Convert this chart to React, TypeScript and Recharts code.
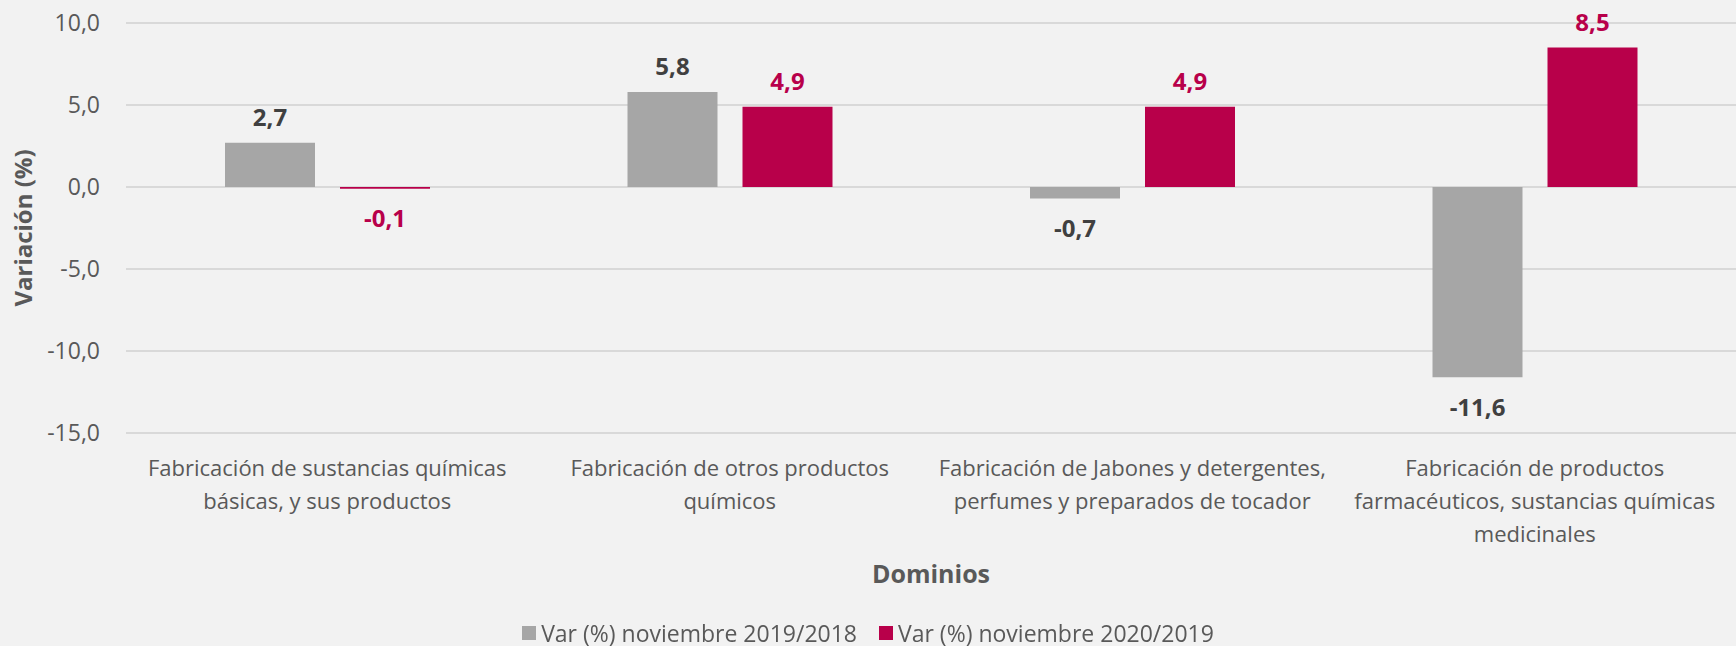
import { Bar, BarChart, CartesianGrid, Label, LabelList, Legend, XAxis, YAxis } from 'recharts';

const categories = [
  'Fabricación de sustancias químicas\nbásicas, y sus productos',
  'Fabricación de otros productos\nquímicos',
  'Fabricación de Jabones y detergentes,\nperfumes y preparados de tocador',
  'Fabricación de productos\nfarmacéuticos, sustancias químicas\nmedicinales',
];
const var2019 = [2.7, 5.8, -0.7, -11.6];
const var2020 = [-0.1, 4.9, 4.9, 8.5];
const yTicks = [-15, -10, -5, 0, 5, 10];
const seriesNames = ['Var (%) noviembre 2019/2018', 'Var (%) noviembre 2020/2019'];

const FONT = "'Open Sans', 'Noto Sans', sans-serif";
const GREY = '#A6A6A6';
const RED = '#B8004A';
const TEXT = '#595959';

const data = categories.map((name, i) => ({ name, v2019: var2019[i], v2020: var2020[i] }));

function fmt(v: number): string {
  return v.toFixed(1).replace('.', ',');
}

function CategoryTick({ x, y, payload }: any) {
  const lines = String(payload.value).split('\n');
  return (
    <text x={x} y={y} textAnchor="middle" fill={TEXT} fontSize={22} fontFamily={FONT}>
      {lines.map((line, i) => (
        <tspan key={i} x={x} dy={i === 0 ? 43 : 33}>
          {line}
        </tspan>
      ))}
    </text>
  );
}

function valueLabel(color: string) {
  return (props: any) => {
    const { x, y, width, height, value } = props;
    const v = Number(value);
    const top = Math.min(y, y + height);
    const bottom = Math.max(y, y + height);
    const ty = v >= 0 ? top - 25 : bottom + 30;
    return (
      <text
        x={x + width / 2}
        y={ty}
        dy="0.35em"
        textAnchor="middle"
        fill={color}
        fontWeight={700}
        fontSize={24}
        fontFamily={FONT}
      >
        {fmt(v)}
      </text>
    );
  };
}

function LegendContent() {
  const colors = [GREY, RED];
  return (
    <div
      style={{
        display: 'flex',
        justifyContent: 'center',
        gap: 22,
        fontFamily: FONT,
        fontSize: 23,
        color: TEXT,
        lineHeight: '26px',
      }}
    >
      {seriesNames.map((n, i) => (
        <span key={n} style={{ display: 'flex', alignItems: 'center' }}>
          <span style={{ width: 14, height: 14, background: colors[i], marginRight: 5 }} />
          {n}
        </span>
      ))}
    </div>
  );
}

export default function App() {
  return (
    <div style={{ position: 'fixed', left: 0, top: 0, width: 1736, height: 646, background: '#F2F2F2' }}>
      <BarChart
        width={1736}
        height={646}
        data={data}
        margin={{ top: 23, right: 0, bottom: 0, left: 0 }}
        barSize={90}
        barGap={25}
      >
        <CartesianGrid vertical={false} stroke="#D9D9D9" strokeWidth={2} />
        <XAxis
          dataKey="name"
          axisLine={false}
          tickLine={false}
          tickSize={0}
          tickMargin={0}
          height={187}
          interval={0}
          tick={<CategoryTick />}
        >
          <Label
            content={({ viewBox }: any) => (
              <text
                x={viewBox.x + viewBox.width / 2}
                y={583}
                textAnchor="middle"
                fill={TEXT}
                fontWeight={700}
                fontSize={25}
                fontFamily={FONT}
              >
                Dominios
              </text>
            )}
          />
        </XAxis>
        <YAxis
          domain={[-15, 10]}
          ticks={yTicks}
          width={126}
          axisLine={false}
          tickLine={false}
          tickSize={0}
          tickMargin={26}
          tickFormatter={fmt}
          tick={{ fill: TEXT, fontSize: 23, fontFamily: FONT }}
        >
          <Label
            content={({ viewBox }: any) => {
              const cx = 24;
              const cy = viewBox.y + viewBox.height / 2;
              return (
                <text
                  x={cx}
                  y={cy}
                  dy="0.35em"
                  transform={`rotate(-90, ${cx}, ${cy})`}
                  textAnchor="middle"
                  fill={TEXT}
                  fontWeight={700}
                  fontSize={24}
                  fontFamily={FONT}
                >
                  Variación (%)
                </text>
              );
            }}
          />
        </YAxis>
        <Legend verticalAlign="bottom" wrapperStyle={{ height: 26 }} content={<LegendContent />} />
        <Bar dataKey="v2019" name={seriesNames[0]} fill={GREY} isAnimationActive={false}>
          <LabelList dataKey="v2019" content={valueLabel('#404040')} />
        </Bar>
        <Bar dataKey="v2020" name={seriesNames[1]} fill={RED} isAnimationActive={false}>
          <LabelList dataKey="v2020" content={valueLabel(RED)} />
        </Bar>
      </BarChart>
    </div>
  );
}
